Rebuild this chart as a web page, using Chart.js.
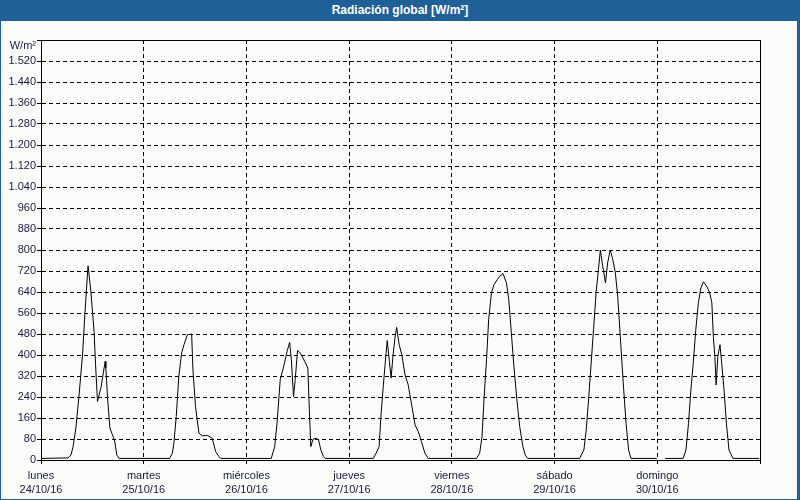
<!DOCTYPE html>
<html>
<head>
<meta charset="utf-8">
<script src="https://cdn.jsdelivr.net/npm/chart.js@4.4.0/dist/chart.umd.min.js"></script>
<style>
  body { margin: 0; background: #fff; }
  #marco {
    position: absolute; left: 0; top: 0;
    width: 796px; height: 499px;
    border-left: 1px solid #1f6097; border-right: 3px solid #1f6097; border-bottom: 1px solid #1f6097;
    background: #fafcfa;
  }
  #titulo {
    position: absolute; left: 0; top: 0; width: 800px; height: 21px;
    background: #1f6097; color: #fff;
    font: bold 12px "Liberation Sans", Arial, sans-serif;
    line-height: 21px; text-align: center;
  }
  canvas { position: absolute; left: 0; top: 0; }
</style>
</head>
<body>
<div id="marco"></div>
<div id="titulo">Radiación global [W/m²]</div>
<canvas id="grafico" width="800" height="500"></canvas>
<script>
// Etiquetas del eje X (un tick por día)
const dias = ["lunes", "martes", "miércoles", "jueves", "viernes", "sábado", "domingo"];
const fechas = ["24/10/16", "25/10/16", "26/10/16", "27/10/16", "28/10/16", "29/10/16", "30/10/16"];
const unidad = "W/m²";

// Horas desde el lunes 00:00 y radiación global (W/m²)
const horas = [
  0, 6.3, 7.0, 7.5, 8.15, 8.9, 9.7, 10.25, 10.9, 11.0, 11.65, 12.4, 12.75, 13.2, 14.0, 15.0, 15.15, 15.55, 16.1, 16.85, 17.25, 17.7, 18.25,
  30.05, 30.7, 31.05, 31.6, 32.2, 32.85, 33.4, 34.2, 35.2, 35.5, 36.1, 36.9, 37.7, 38.85, 40.0, 40.8, 41.55, 41.95,
  53.8, 54.6, 55.15, 55.9, 56.7, 57.5, 58.1, 58.5, 59.0, 59.4, 59.95, 60.6, 61.6, 62.35, 62.7, 63.05, 63.55, 64.3, 64.85, 65.4, 66.0, 66.4,
  77.65, 78.3, 79.0, 79.45, 80.0, 80.4, 80.9, 81.4, 81.8, 82.2, 82.7, 83.1, 83.7, 84.3, 85.05, 85.8, 86.6, 87.4, 88.15, 88.9, 89.7, 90.45,
  101.75, 102.5, 103.05, 103.5, 104.1, 104.6, 105.25, 105.85, 106.65, 107.2, 107.95, 108.75, 109.3, 109.9, 110.5, 111.2, 111.85, 112.6, 113.15, 113.75,
  125.85, 126.85, 127.4, 128.0, 128.55, 129.1, 129.7, 130.25, 130.7, 131.25, 131.9, 132.4, 133.0, 133.6, 134.2, 134.75, 135.35, 136.05, 136.7, 137.3, 137.85, 143.9, 144.5, 145.85,
  150.05, 150.7, 151.3, 151.85, 152.4, 153.0, 153.6, 154.2, 154.8, 155.55, 156.25, 156.75, 157.1, 157.45, 157.75, 158.15, 158.65, 159.05, 159.6, 160.15, 160.75, 161.7, 167.8
];
const radiacion = [
  6, 8, 19, 51, 122, 248, 400, 554, 720, 740, 643, 490, 363, 223, 275, 376, 351, 237, 122, 89, 70, 19, 6,
  6, 26, 64, 166, 318, 407, 439, 477, 480, 344, 204, 102, 92, 94, 83, 32, 13, 6,
  6, 51, 140, 306, 356, 414, 448, 382, 242, 306, 418, 407, 376, 350, 191, 51, 79, 83, 76, 38, 13, 6,
  6, 26, 51, 172, 286, 363, 455, 376, 312, 388, 465, 505, 439, 401, 325, 286, 210, 134, 108, 70, 26, 6,
  6, 26, 89, 229, 382, 535, 637, 668, 688, 700, 710, 675, 611, 484, 356, 229, 127, 51, 19, 6,
  6, 38, 115, 242, 369, 497, 637, 726, 800, 738, 675, 751, 800, 764, 713, 624, 471, 293, 140, 38, 6, 6, null, 6,
  6, 38, 140, 267, 369, 497, 599, 656, 679, 662, 637, 599, 471, 395, 286, 395, 439, 369, 267, 140, 38, 6, 6
];

// 1520 -> "1.520"
function formatoMiles(v) {
  if (v >= 1000) return Math.floor(v / 1000) + "." + String(v % 1000).padStart(3, "0");
  return String(v);
}

const fuente = { family: "'Liberation Sans', Arial, sans-serif", size: 11 };
const colorTexto = "#1a1a40";

// marco superior y derecho + unidad arriba del eje Y
const marcoPlugin = {
  id: "marco",
  afterDraw(chart) {
    const { ctx, chartArea: a } = chart;
    ctx.save();
    ctx.strokeStyle = "#000";
    ctx.lineWidth = 1;
    ctx.beginPath();
    ctx.moveTo(Math.round(a.left), Math.round(a.top) + 0.5);
    ctx.lineTo(Math.round(a.right) + 0.5, Math.round(a.top) + 0.5);
    ctx.lineTo(Math.round(a.right) + 0.5, Math.round(a.bottom));
    ctx.stroke();
    ctx.fillStyle = colorTexto;
    ctx.font = fuente.size + "px " + fuente.family;
    ctx.textAlign = "right";
    ctx.textBaseline = "middle";
    ctx.fillText(unidad, a.left - 5, a.top + 6);
    ctx.restore();
  }
};

new Chart(document.getElementById("grafico"), {
  type: "line",
  data: {
    datasets: [{
      data: horas.map((h, i) => ({ x: h, y: radiacion[i] })),
      borderColor: "#000",
      borderWidth: 1,
      pointRadius: 0,
      tension: 0,
      spanGaps: false,
      fill: false
    }]
  },
  options: {
    responsive: false,
    animation: false,
    events: [],
    layout: { padding: { top: 40, right: 40, left: 0, bottom: 0 } },
    plugins: { legend: { display: false }, tooltip: { enabled: false } },
    scales: {
      x: {
        type: "linear",
        min: 0,
        max: 168,
        afterFit: s => { s.height = 40; },
        border: { color: "#000", width: 1, dash: [4, 3] },
        grid: { color: "#000", lineWidth: 1, tickLength: 4 },
        ticks: {
          stepSize: 24,
          autoSkip: false,
          maxRotation: 0,
          padding: 4,
          color: colorTexto,
          font: { ...fuente, lineHeight: 1.36 },
          callback: v => {
            const i = v / 24;
            return i < dias.length ? [dias[i], fechas[i]] : "";
          }
        }
      },
      y: {
        min: 0,
        max: 1600,
        afterFit: s => { s.width = 41; },
        border: { color: "#000", width: 1, dash: [4, 3] },
        grid: { color: "#000", lineWidth: 1, tickLength: 4 },
        ticks: {
          stepSize: 80,
          autoSkip: false,
          padding: 1,
          color: colorTexto,
          font: fuente,
          callback: v => (v === 1600 ? "" : formatoMiles(v))
        }
      }
    }
  },
  plugins: [marcoPlugin]
});
</script>
</body>
</html>
